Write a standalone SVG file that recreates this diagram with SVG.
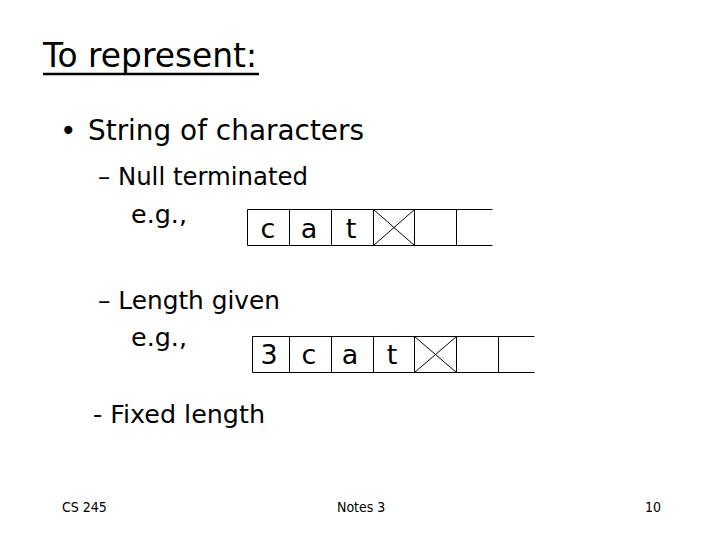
<svg xmlns="http://www.w3.org/2000/svg" width="720" height="540" viewBox="0 0 720 540">
<style>
text{font-family:"DejaVu Sans",sans-serif;fill:#000}
.t{font-size:34px}
.b1{font-size:28px}
.b2{font-size:24px}
.c{font-size:27px;text-anchor:middle}
.f{font-size:14px;font-family:"DejaVu Sans Condensed","DejaVu Sans",sans-serif}
.cell{fill:none;stroke:#000;stroke-width:1}
</style>
<rect width="720" height="540" fill="#fff"/>
<g id="title">
<text class="t" x="43" y="67" textLength="214" lengthAdjust="spacingAndGlyphs">To represent:</text>
<line x1="43" y1="74" x2="259" y2="74" stroke="#000" stroke-width="2.5"/>
</g>
<g id="bullets">
<text class="b1" x="60" y="140">•</text>
<text class="b1" x="88" y="140" textLength="276" lengthAdjust="spacingAndGlyphs">String of characters</text>
<text class="b2" x="98" y="185" textLength="210" lengthAdjust="spacingAndGlyphs">– Null terminated</text>
<text class="b2" x="131" y="223" textLength="56" lengthAdjust="spacingAndGlyphs">e.g.,</text>
<text class="b2" x="98" y="309" textLength="182" lengthAdjust="spacingAndGlyphs">– Length given</text>
<text class="b2" x="131" y="346" textLength="56" lengthAdjust="spacingAndGlyphs">e.g.,</text>
<text class="b2" x="93" y="423" textLength="172" lengthAdjust="spacingAndGlyphs">- Fixed length</text>
</g>
<g id="array1">
<path class="cell" d="M247.5,209.5H492.5M247.5,245.5H492.5M247.5,209.5V245.5M289.5,209.5V245.5M331.5,209.5V245.5M373.5,209.5V245.5M414.5,209.5V245.5M456.5,209.5V245.5M373.5,209.5L414.5,245.5M414.5,209.5L373.5,245.5"/>
<text class="c" x="268" y="238">c</text>
<text class="c" x="309" y="238">a</text>
<text class="c" x="351" y="238">t</text>
</g>
<g id="array2">
<path class="cell" d="M252.5,336.5H534.5M252.5,372.5H534.5M252.5,336.5V372.5M289.5,336.5V372.5M331.5,336.5V372.5M373.5,336.5V372.5M414.5,336.5V372.5M456.5,336.5V372.5M498.5,336.5V372.5M414.5,336.5L456.5,372.5M456.5,336.5L414.5,372.5"/>
<text class="c" x="269" y="364">3</text>
<text class="c" x="309" y="364">c</text>
<text class="c" x="350" y="364">a</text>
<text class="c" x="392" y="364">t</text>
</g>
<g id="footer">
<text class="f" x="62" y="512">CS 245</text>
<text class="f" x="337" y="512">Notes 3</text>
<text class="f" x="645" y="512">10</text>
</g>
</svg>
